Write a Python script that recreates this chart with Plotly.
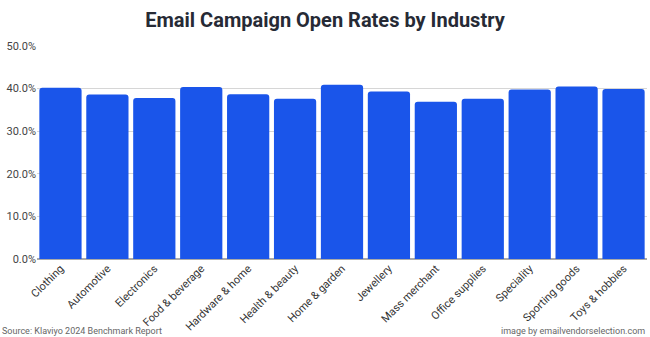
import plotly.graph_objects as go

industries = ["Clothing", "Automotive", "Electronics", "Food & beverage", "Hardware & home",
              "Health & beauty", "Home & garden", "Jewellery", "Mass merchant", "Office supplies",
              "Speciality", "Sporting goods", "Toys & hobbies"]
open_rates = [40.2, 38.6, 37.8, 40.4, 38.7, 37.6, 40.9, 39.3, 36.9, 37.6, 39.8, 40.5, 39.9]
y_ticks = [0, 10, 20, 30, 40, 50]
y_tick_labels = ["0.0%", "10.0%", "20.0%", "30.0%", "40.0%", "50.0%"]

fig = go.Figure(go.Bar(
    x=industries, y=open_rates,
    marker=dict(color="#1A55EA", cornerradius=3, line=dict(width=0)),
    hoverinfo="x+y",
))

fig.update_layout(
    width=650, height=337,
    margin=dict(l=37, r=3, t=46, b=78),
    paper_bgcolor="white", plot_bgcolor="white",
    bargap=0.1,
    showlegend=False,
    font=dict(family="Roboto, Arial, sans-serif", color="#333333"),
    title=dict(text="<b>Email Campaign Open Rates by Industry</b>", x=0.5, xanchor="center",
               y=0.94, yanchor="middle", font=dict(size=20, color="#262a35")),
    xaxis=dict(tickangle=-45, tickfont=dict(size=11, color="#333333"), showgrid=False,
               showline=False, ticks="", automargin=False),
    yaxis=dict(range=[0, 50], tickvals=y_ticks, ticktext=y_tick_labels,
               tickfont=dict(size=11, color="#444444"), gridcolor="#d6d6d6", gridwidth=1,
               zeroline=True, zerolinecolor="#aaaaaa", zerolinewidth=1.5,
               showline=False, ticks="", automargin=False),
    annotations=[
        dict(text="Source: Klaviyo 2024 Benchmark Report", xref="paper", yref="paper",
             x=-37/610, y=-72/213, xanchor="left", yanchor="middle", showarrow=False,
             font=dict(size=9, color="#666666")),
        dict(text="image by emailvendorselection.com", xref="paper", yref="paper",
             x=1.0, y=-72/213, xanchor="right", yanchor="middle", showarrow=False,
             font=dict(size=9, color="#666666")),
    ],
)

fig.write_html("out.html")
